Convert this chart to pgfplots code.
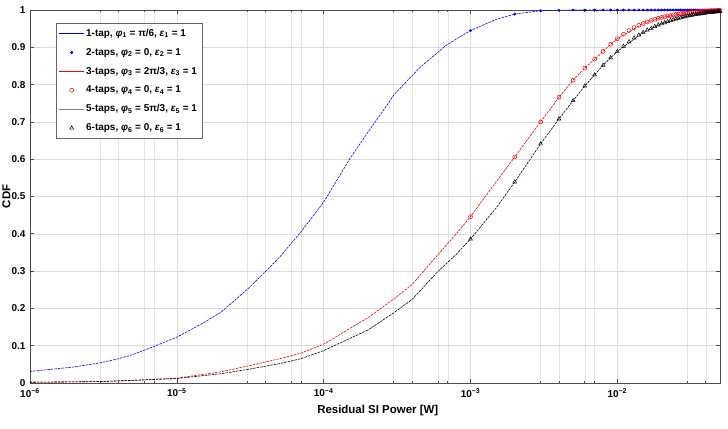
\documentclass[border=0pt]{standalone}
\usepackage{pgfplots}
\usepackage{pgfplotstable}
\pgfplotsset{compat=1.18}
\usepackage{fontspec}
\setmainfont{Liberation Sans}

\pgfdeclareplotmark{legline}{\pgfpathmoveto{\pgfqpoint{-12.5bp}{0pt}}\pgfpathlineto{\pgfqpoint{12.5bp}{0pt}}\pgfusepathqstroke}

\pgfplotstableread{
x y
1e-6 0.031
2e-6 0.043
3e-6 0.054
4e-6 0.065
5e-6 0.076
7e-6 0.098
1e-5 0.123
1.5e-5 0.160
2e-5 0.190
3e-5 0.250
4e-5 0.298
5e-5 0.337
7e-5 0.405
1e-4 0.485
1.5e-4 0.600
2e-4 0.672
2.7e-4 0.745
3e-4 0.772
4.5e-4 0.845
6.8e-4 0.905
1e-3 0.945
1.5e-3 0.975
2e-3 0.989
3e-3 0.998
4e-3 0.9995
5e-3 1.0
1e-2 1.0
5e-2 1.0
}\tapone

\pgfplotstableread{
x y
1e-6 0.002
2e-6 0.003
3e-6 0.004
5e-6 0.007
1e-5 0.013
2e-5 0.030
3e-5 0.045
5e-5 0.065
7e-5 0.080
1e-4 0.104
2e-4 0.175
3e-4 0.225
4e-4 0.264
6e-4 0.344
8e-4 0.400
1e-3 0.446
1.5e-3 0.540
2e-3 0.606
3e-3 0.700
4e-3 0.766
5e-3 0.812
6e-3 0.844
7e-3 0.868
8e-3 0.889
9e-3 0.908
1e-2 0.923
1.5e-2 0.964
2e-2 0.980
3e-2 0.992
4e-2 0.997
5e-2 0.999
}\tapthree

\pgfplotstableread{
x y
1e-6 0.002
2e-6 0.003
3e-6 0.004
5e-6 0.007
1e-5 0.012
2e-5 0.025
3e-5 0.036
5e-5 0.052
7e-5 0.065
1e-4 0.087
2e-4 0.142
3e-4 0.188
4e-4 0.224
6e-4 0.299
8e-4 0.345
1e-3 0.386
1.5e-3 0.470
2e-3 0.539
3e-3 0.641
4e-3 0.708
5e-3 0.757
6e-3 0.796
7e-3 0.826
8e-3 0.852
9e-3 0.872
1e-2 0.889
1.5e-2 0.940
2e-2 0.963
3e-2 0.984
4e-2 0.992
5e-2 0.996
}\tapfive

\pgfplotstableread{
x b r k
0.001 0.945 0.446 0.386
0.002 0.989 0.606 0.539
0.003 0.998 0.700 0.641
0.004 0.9995 0.766 0.708
0.005 1.0 0.812 0.757
0.006 1.0 0.844 0.796
0.007 1.0 0.868 0.826
0.008 1.0 0.889 0.852
0.009 1.0 0.908 0.872
0.010 1.0 0.923 0.889
0.011 1.0 0.935 0.903
0.012 1.0 0.945 0.915
0.013 1.0 0.953 0.925
0.014 1.0 0.959 0.933
0.015 1.0 0.964 0.940
0.016 1.0 0.968 0.946
0.017 1.0 0.972 0.951
0.018 1.0 0.975 0.956
0.019 1.0 0.978 0.960
0.020 1.0 0.980 0.963
0.021 1.0 0.982 0.966
0.022 1.0 0.984 0.969
0.023 1.0 0.985 0.972
0.024 1.0 0.987 0.974
0.025 1.0 0.988 0.976
0.026 1.0 0.989 0.978
0.027 1.0 0.990 0.979
0.028 1.0 0.991 0.981
0.029 1.0 0.992 0.982
0.030 1.0 0.992 0.984
0.031 1.0 0.993 0.985
0.032 1.0 0.994 0.986
0.033 1.0 0.994 0.987
0.034 1.0 0.995 0.988
0.035 1.0 0.995 0.989
0.036 1.0 0.996 0.989
0.037 1.0 0.996 0.990
0.038 1.0 0.996 0.991
0.039 1.0 0.997 0.991
0.040 1.0 0.997 0.992
0.041 1.0 0.997 0.993
0.042 1.0 0.997 0.993
0.043 1.0 0.998 0.994
0.044 1.0 0.998 0.994
0.045 1.0 0.998 0.994
0.046 1.0 0.998 0.995
0.047 1.0 0.998 0.995
0.048 1.0 0.999 0.995
0.049 1.0 0.999 0.996
0.050 1.0 0.999 0.996
}\marks

\begin{document}
\begin{tikzpicture}
\useasboundingbox (0,0) rectangle (728bp,429bp);
\begin{axis}[
  at={(30bp,46bp)}, anchor=south west,
  scale only axis, width=690bp, height=373bp,
  xmode=log, xmin=1e-6, xmax=5e-2, ymin=0, ymax=1,
  xtick={1e-6,1e-5,1e-4,1e-3,1e-2},
  xticklabels={10\textsuperscript{−6},10\textsuperscript{−5},10\textsuperscript{−4},10\textsuperscript{−3},10\textsuperscript{−2}},
  minor xtick={3e-6,4e-6,6e-6,7e-6,3e-5,4e-5,6e-5,7e-5,3e-4,4e-4,6e-4,7e-4,3e-3,4e-3,6e-3,7e-3,3e-2,4e-2},
  ytick={0,0.1,0.2,0.3,0.4,0.5,0.6,0.7,0.8,0.9,1},
  yticklabels={0,0.1,0.2,0.3,0.4,0.5,0.6,0.7,0.8,0.9,1},
  grid=both,
  major grid style={gray!28, line width=0.5pt},
  minor grid style={gray!20, line width=0.5pt},
  axis line style={black!70, line width=0.7pt},
  tick style={black!70, line width=0.6pt},
  major tick length=4bp, minor tick length=2.5bp,
  tick label style={font=\bfseries\fontsize{10}{12}\selectfont},
  xticklabel style={yshift=-2bp},
  yticklabel style={xshift=-1bp},
  xlabel={Residual SI Power [W]}, ylabel={CDF},
  label style={font=\bfseries\fontsize{11.5}{13}\selectfont},
  xlabel style={at={(axis description cs:0.504,-0.075)}, anchor=center},
  ylabel style={at={(axis description cs:-0.034,0.5)}, anchor=center},
  legend style={at={(0.0377,0.965)}, anchor=north west, draw=black!60,
    font=\bfseries\fontsize{10}{12}\selectfont, row sep=6.3bp, inner xsep=3bp, inner ysep=4bp},
  legend cell align=left,
]
\addplot[blue, line width=0.6pt, dash pattern=on 2.5bp off 1bp, forget plot]
  table[x=x,y=y] {\tapone};
\addplot[blue, only marks, mark=*, mark size=1.2pt, forget plot]
  table[x=x,y=b] {\marks};
\addplot[red, line width=0.6pt, dash pattern=on 2.5bp off 1bp, forget plot]
  table[x=x,y=y] {\tapthree};
\addplot[red, only marks, mark=o, mark size=2pt, mark options={line width=0.5pt}, forget plot]
  table[x=x,y=r] {\marks};
\addplot[black, line width=0.6pt, dash pattern=on 2.5bp off 1bp, forget plot]
  table[x=x,y=y] {\tapfive};
\addplot[black, only marks, mark=triangle, mark size=2.2pt, mark options={line width=0.5pt}, forget plot]
  table[x=x,y=k] {\marks};
\addlegendimage{legend image code/.code={\pgfpathmoveto{\pgfpointorigin}\pgfpathlineto{\pgfpoint{25bp}{0bp}}\pgfusepath{discard}\pgfsetstrokecolor{blue}\pgfsetfillcolor{blue}\pgfsetlinewidth{0.8pt}\pgfsetdash{}{0pt}\pgftransformshift{\pgfpoint{12.5bp}{0bp}}\pgfuseplotmark{legline}}}
\addlegendentry{1-tap, \textit{φ}\textsubscript{1} = π/6, \textit{ε}\textsubscript{1} = 1}
\addlegendimage{legend image code/.code={\pgfpathmoveto{\pgfpointorigin}\pgfpathlineto{\pgfpoint{25bp}{0bp}}\pgfusepath{discard}\pgfsetstrokecolor{blue}\pgfsetfillcolor{blue}\pgfsetlinewidth{0.5pt}\pgfsetdash{}{0pt}\pgftransformshift{\pgfpoint{12.5bp}{0bp}}\pgfsetplotmarksize{1.3pt}\pgfuseplotmark{*}}}
\addlegendentry{2-taps, \textit{φ}\textsubscript{2} = 0, \textit{ε}\textsubscript{2} = 1}
\addlegendimage{legend image code/.code={\pgfpathmoveto{\pgfpointorigin}\pgfpathlineto{\pgfpoint{25bp}{0bp}}\pgfusepath{discard}\pgfsetstrokecolor{red}\pgfsetfillcolor{red}\pgfsetlinewidth{1.6pt}\pgfsetdash{}{0pt}\pgftransformshift{\pgfpoint{12.5bp}{0bp}}\pgfuseplotmark{legline}}}
\addlegendentry{3-taps, \textit{φ}\textsubscript{3} = 2π/3, \textit{ε}\textsubscript{3} = 1}
\addlegendimage{legend image code/.code={\pgfpathmoveto{\pgfpointorigin}\pgfpathlineto{\pgfpoint{25bp}{0bp}}\pgfusepath{discard}\pgfsetstrokecolor{red}\pgfsetlinewidth{0.5pt}\pgfsetdash{}{0pt}\pgftransformshift{\pgfpoint{12.5bp}{0bp}}\pgfsetplotmarksize{2pt}\pgfuseplotmark{o}}}
\addlegendentry{4-taps, \textit{φ}\textsubscript{4} = 0, \textit{ε}\textsubscript{4} = 1}
\addlegendimage{legend image code/.code={\pgfpathmoveto{\pgfpointorigin}\pgfpathlineto{\pgfpoint{25bp}{0bp}}\pgfusepath{discard}\pgfsetstrokecolor{gray}\pgfsetfillcolor{gray}\pgfsetlinewidth{0.5pt}\pgfsetdash{}{0pt}\pgftransformshift{\pgfpoint{12.5bp}{0bp}}\pgfuseplotmark{legline}}}
\addlegendentry{5-taps, \textit{φ}\textsubscript{5} = 5π/3, \textit{ε}\textsubscript{5} = 1}
\addlegendimage{legend image code/.code={\pgfpathmoveto{\pgfpointorigin}\pgfpathlineto{\pgfpoint{25bp}{0bp}}\pgfusepath{discard}\pgfsetstrokecolor{black}\pgfsetlinewidth{0.5pt}\pgfsetdash{}{0pt}\pgftransformshift{\pgfpoint{12.5bp}{0bp}}\pgfsetplotmarksize{2.2pt}\pgfuseplotmark{triangle}}}
\addlegendentry{6-taps, \textit{φ}\textsubscript{6} = 0, \textit{ε}\textsubscript{6} = 1}
\end{axis}
\end{tikzpicture}
\end{document}
